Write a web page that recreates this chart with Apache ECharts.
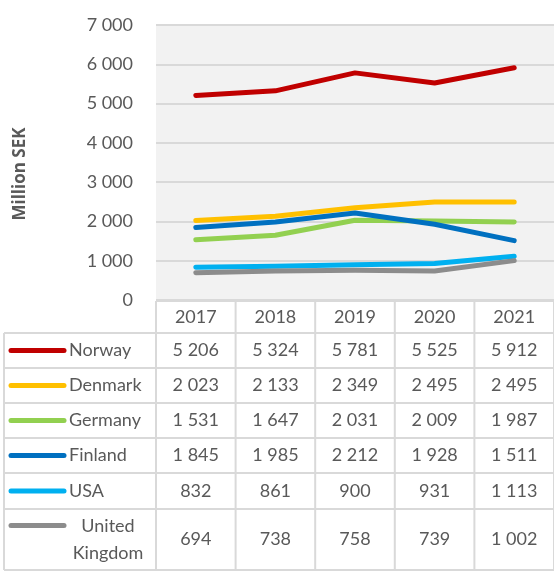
<!DOCTYPE html>
<html><head><meta charset="utf-8">
<script src="https://cdn.jsdelivr.net/npm/echarts@6/dist/echarts.min.js"></script>
<style>html,body{margin:0;padding:0;background:#fff}#c{width:554px;height:578px}</style>
</head><body><div id="c"></div>
<script>
const years = ['2017', '2018', '2019', '2020', '2021'];
const countries = ['Norway', 'Denmark', 'Germany', 'Finland', 'USA', 'United Kingdom'];
const norway = [5206, 5324, 5781, 5525, 5912];
const denmark = [2023, 2133, 2349, 2495, 2495];
const germany = [1531, 1647, 2031, 2009, 1987];
const finland = [1845, 1985, 2212, 1928, 1511];
const usa = [832, 861, 900, 931, 1113];
const uk = [694, 738, 758, 739, 1002];
const yAxisTitle = 'Million SEK';

const values = [norway, denmark, germany, finland, usa, uk];
const colors = ['#C00000', '#FFC000', '#92D050', '#0070C0', '#00B0F0', '#8C8C8C'];
const TXT = '#595959', BORDER = '#d9d9d9', FONT = 'Lato';
const fmt = n => String(n).replace(/\B(?=(\d{3})+(?!\d))/g, ' ');

const chart = echarts.init(document.getElementById('c'), null, {renderer: 'canvas'});
chart.setOption({
  animation: false,
  grid: {left: 156, right: -4, top: 25, bottom: 278, show: true, backgroundColor: '#f2f2f2', borderWidth: 0},
  xAxis: {
    type: 'category', data: years, boundaryGap: true,
    axisLine: {show: false}, axisTick: {show: false},
    axisLabel: {color: TXT, fontFamily: FONT, fontSize: 18, margin: 17, verticalAlign: 'middle'},
    splitLine: {show: false}
  },
  yAxis: {
    type: 'value', min: 0, max: 7000, interval: 1000,
    axisLine: {show: false}, axisTick: {show: false},
    axisLabel: {color: TXT, fontFamily: FONT, fontSize: 18, margin: 23, formatter: v => fmt(v)},
    splitLine: {lineStyle: {color: BORDER, width: 2}}
  },
  series: countries.map((c, i) => ({
    name: c, type: 'line', data: values[i], showSymbol: false,
    lineStyle: {color: colors[i], width: 5, cap: 'round', join: 'round'},
    itemStyle: {color: colors[i]}
  }))
});

// Data table built from the axis scale
const centers = years.map((y, i) => chart.convertToPixel({xAxisIndex: 0}, i));
const half = (centers[1] - centers[0]) / 2;
const bounds = [centers[0] - half].concat(centers.map(c => c + half));
const rowTops = [333, 368, 403, 438, 473, 509, 570];
const headTop = 301, tableLeft = 4, W = 554;
const g = [];
const line = (x1, y1, x2, y2) => g.push({type: 'line', shape: {x1, y1, x2, y2}, style: {stroke: BORDER, lineWidth: 2}, z: 10});
line(bounds[0], headTop, W, headTop);
rowTops.forEach(y => line(tableLeft, y, W, y));
line(tableLeft, rowTops[0], tableLeft, rowTops[rowTops.length - 1]);
bounds.forEach(x => line(x, headTop, x, rowTops[rowTops.length - 1]));

countries.forEach((c, r) => {
  const yc = (rowTops[r] + rowTops[r + 1]) / 2;
  const wrap = c.length > 12 && c.includes(' ');
  const keyY = wrap ? yc - 14 : yc;
  g.push({type: 'line', shape: {x1: 11, y1: keyY, x2: 64, y2: keyY},
    style: {stroke: colors[r], lineWidth: 5, lineCap: 'round'}, z: 11});
  g.push({type: 'text', x: wrap ? 108 : 69, y: yc, z: 11,
    style: {text: wrap ? c.replace(' ', '\n') : c, fill: TXT, fontFamily: FONT, fontSize: 18,
      lineHeight: 27, align: wrap ? 'center' : 'left', verticalAlign: 'middle'}});
  values[r].forEach((v, i) => {
    g.push({type: 'text', x: centers[i], y: yc, z: 11,
      style: {text: fmt(v), fill: TXT, fontFamily: FONT, fontSize: 18, align: 'center', verticalAlign: 'middle'}});
  });
});

g.push({type: 'text', x: 20, y: 174, rotation: Math.PI / 2, z: 11,
  style: {text: yAxisTitle, fill: TXT, fontFamily: 'Open Sans', fontSize: 17, fontWeight: 700, align: 'center', verticalAlign: 'middle'}});

chart.setOption({graphic: g});
</script>
</body></html>
